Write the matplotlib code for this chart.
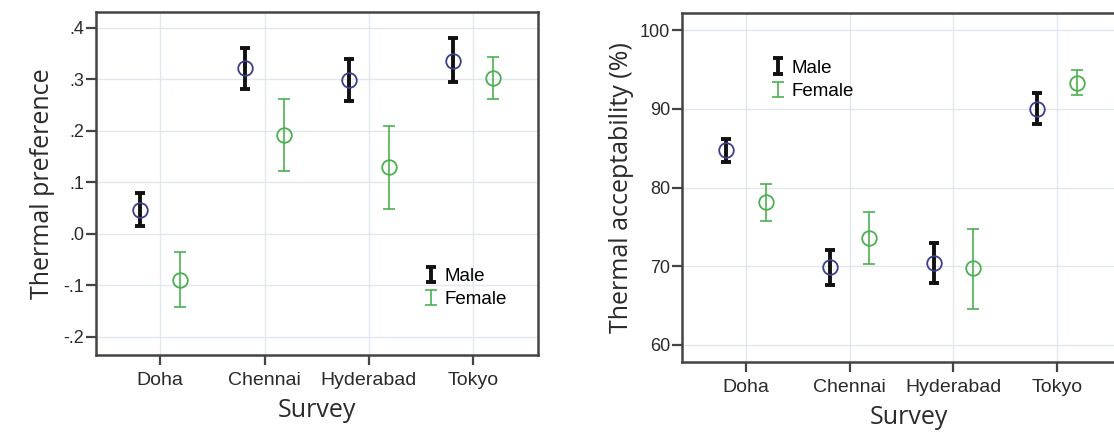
import numpy as np
from matplotlib import pyplot as plt
from matplotlib.ticker import FuncFormatter
from matplotlib.container import ErrorbarContainer
from matplotlib.legend_handler import HandlerErrorbar

# ---------------- data ----------------
surveys = ["Doha", "Chennai", "Hyderabad", "Tokyo"]

pref_male = [0.047, 0.322, 0.299, 0.336]
pref_male_lo = [0.016, 0.281, 0.258, 0.295]
pref_male_hi = [0.080, 0.362, 0.340, 0.380]
pref_female = [-0.089, 0.192, 0.130, 0.302]
pref_female_lo = [-0.142, 0.122, 0.049, 0.262]
pref_female_hi = [-0.035, 0.262, 0.210, 0.344]

acc_male = [84.8, 69.9, 70.4, 90.0]
acc_male_lo = [83.3, 67.6, 67.8, 88.1]
acc_male_hi = [86.2, 72.1, 73.0, 92.0]
acc_female = [78.1, 73.6, 69.7, 93.3]
acc_female_lo = [75.7, 70.3, 64.6, 91.8]
acc_female_hi = [80.4, 76.9, 74.7, 94.9]

# ---------------- style ----------------
male_bar = "#111111"
male_mark = "#3b3f8c"
female_col = "#4cb050"
grid_col = "#e0e7ef"
spine_col = "#444444"
text_col = "#2a2a2a"
tick_font = "Liberation Sans"
label_font = "Open Sans"

fig = plt.figure(figsize=(11.14, 4.37), dpi=100)
ax1 = fig.add_axes([0.0862, 0.1876, 0.3968, 0.785])
ax2 = fig.add_axes([0.6122, 0.1716, 0.4066, 0.7986])


def draw_panel(ax, m, mlo, mhi, f, flo, fhi, off):
    x = np.arange(len(surveys))
    m, f = np.array(m), np.array(f)
    merr = [m - np.array(mlo), np.array(mhi) - m]
    ferr = [f - np.array(flo), np.array(fhi) - f]
    ax.errorbar(x - off, m, yerr=merr, fmt="none", ecolor=male_bar,
                elinewidth=2.8, capsize=3.6, capthick=2.8, label="Male", zorder=3)
    ax.errorbar(x + off, f, yerr=ferr, fmt="none", ecolor=female_col,
                elinewidth=1.2, capsize=4.2, capthick=1.2, label="Female", zorder=3)
    ax.plot(x - off, m, "o", mfc="none", mec=male_mark, ms=10.5, mew=1.3, zorder=4)
    ax.plot(x + off, f, "o", mfc="none", mec=female_col, ms=10.5, mew=1.3, zorder=4)

    ax.set_xticks(x)
    ax.set_xticklabels(surveys, fontfamily=tick_font, fontsize=14, color=text_col)
    ax.grid(True, color=grid_col, lw=1.0, zorder=0)
    ax.set_axisbelow(True)
    for s in ax.spines.values():
        s.set_color(spine_col)
        s.set_linewidth(1.8)
    ax.tick_params(axis="both", direction="out", length=7.5, width=1.6, color=spine_col)
    ax.tick_params(axis="x", pad=5)
    ax.tick_params(axis="y", pad=1)
    ax.set_xlabel("Survey", fontfamily=label_font, fontsize=18, color=text_col, labelpad=6)


def style_yticks(ax):
    for t in ax.get_yticklabels():
        t.set_fontfamily(tick_font)
        t.set_fontsize(13)
        t.set_color(text_col)


def add_legend(ax, anchor):
    ax.legend(loc="upper left", bbox_to_anchor=anchor, frameon=False,
              borderpad=0, borderaxespad=0, handlelength=0.8, handletextpad=0.35,
              labelspacing=0.32, prop={"family": tick_font, "size": 13.5},
              handler_map={ErrorbarContainer: HandlerErrorbar(xerr_size=0.5, yerr_size=0.42)})


# left panel: thermal preference
draw_panel(ax1, pref_male, pref_male_lo, pref_male_hi,
           pref_female, pref_female_lo, pref_female_hi, 0.19)
ax1.set_xlim(-0.614, 3.62)
ax1.set_ylim(-0.235, 0.431)
ax1.set_yticks([-0.2, -0.1, 0.0, 0.1, 0.2, 0.3, 0.4])
ax1.yaxis.set_major_formatter(FuncFormatter(lambda v, p: f"{v:.1f}".replace("0.", ".")))
style_yticks(ax1)
ax1.set_ylabel("Thermal preference", fontfamily=label_font, fontsize=18,
               color=text_col, labelpad=6)
add_legend(ax1, (0.74, 0.254))

# right panel: thermal acceptability
draw_panel(ax2, acc_male, acc_male_lo, acc_male_hi,
           acc_female, acc_female_lo, acc_female_hi, 0.19)
ax2.set_xlim(-0.617, 3.75)
ax2.set_ylim(57.8, 102.2)
ax2.set_yticks([60, 70, 80, 90, 100])
style_yticks(ax2)
ax2.set_ylabel("Thermal acceptability (%)", fontfamily=label_font, fontsize=18,
               color=text_col, labelpad=4)
add_legend(ax2, (0.195, 0.866))

fig.savefig("out.png", dpi=100)
